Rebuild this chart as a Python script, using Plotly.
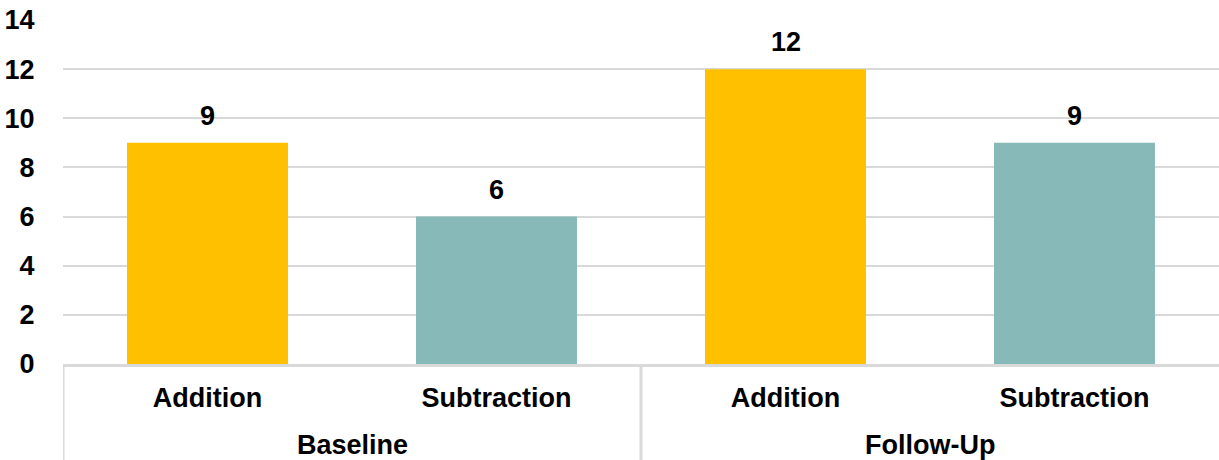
import plotly.graph_objects as go

group_names = ["Baseline", "Follow-Up"]
groups = ["Baseline", "Baseline", "Follow-Up", "Follow-Up"]
operations = ["Addition", "Subtraction", "Addition", "Subtraction"]
values = [9, 6, 12, 9]
colors = ["#FFC000", "#88B9B9", "#FFC000", "#88B9B9"]
y_ticks = [0, 2, 4, 6, 8, 10, 12, 14]

font_family = "Liberation Sans, Arial, sans-serif"
fsize = 27
positions = list(range(len(values)))

fig = go.Figure()
fig.add_trace(go.Bar(
    x=positions,
    y=values,
    marker=dict(color=colors, line=dict(width=0)),
    hoverinfo="skip",
))

# data labels above bars
for xi, v in zip(positions, values):
    fig.add_annotation(
        x=xi, y=v, xref="x", yref="y",
        text=str(v), showarrow=False,
        yanchor="bottom", yshift=10,
        font=dict(family=font_family, size=fsize, color="#000000", weight="bold"),
    )

# group labels and dividers
plot_h = 460 - 20 - 96
for gi, g in enumerate(group_names):
    idx = [i for i, gg in enumerate(groups) if gg == g]
    center = sum(idx) / len(idx)
    fig.add_annotation(
        x=center, y=-(445 - 364) / plot_h, xref="x", yref="paper",
        text=g, showarrow=False, yanchor="middle",
        font=dict(family=font_family, size=fsize, color="#000000", weight="bold"),
    )
    fig.add_shape(
        type="line", xref="x", yref="paper",
        x0=min(idx) - 0.5, x1=min(idx) - 0.5, y0=0, y1=-96 / plot_h,
        line=dict(color="#D9D9D9", width=3),
    )

fig.update_layout(
    width=1219,
    height=460,
    margin=dict(l=63, r=0, t=20, b=96),
    plot_bgcolor="white",
    paper_bgcolor="white",
    bargap=0.443,
    showlegend=False,
    font=dict(family=font_family, size=fsize, color="#000000"),
)

fig.update_yaxes(
    range=[0, 14],
    tickvals=y_ticks,
    showgrid=True,
    gridcolor="#D9D9D9",
    gridwidth=2,
    zeroline=False,
    showline=False,
    ticks="outside",
    ticklen=22,
    tickcolor="rgba(0,0,0,0)",
    tickfont=dict(family=font_family, size=fsize, color="#000000", weight="bold"),
)

fig.update_xaxes(
    range=[-0.5, len(values) - 0.5],
    tickmode="array",
    tickvals=positions,
    ticktext=operations,
    showgrid=False,
    zeroline=False,
    showline=True,
    linecolor="#D9D9D9",
    linewidth=3,
    ticks="outside",
    ticklen=8,
    tickcolor="rgba(0,0,0,0)",
    tickfont=dict(family=font_family, size=fsize, color="#000000", weight="bold"),
)

fig.write_html("out.html")
